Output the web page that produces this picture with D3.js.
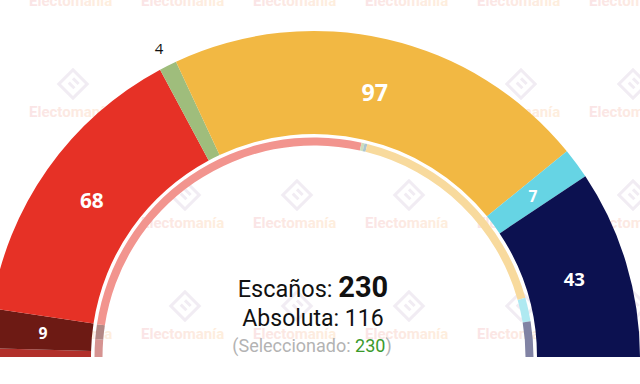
<!DOCTYPE html>
<html>
<head>
<meta charset="utf-8">
<script src="https://cdn.jsdelivr.net/npm/d3@7"></script>
<style>
  html, body { margin: 0; padding: 0; background: #fff; }
  svg { display: block; }
</style>
</head>
<body>
<div id="chart"></div>
<script>
// seats of the projection (outer ring), left to right
var parties = ["CDU", "BE", "PS", "L", "AD", "IL", "CH"];
var seats = [2, 9, 68, 4, 97, 7, 43];
var partyColors = ["#b1302b", "#6d1a14", "#e63126", "#9fbd7c", "#f2b843", "#66d4e4", "#0c1150"];

// selected / previous distribution (thin inner ring)
var prevParties = ["CDU", "BE", "PS", "L", "PAN", "AD", "IL", "CH"];
var prevSeats = [6, 5, 120, 1, 1, 77, 8, 12];

var totalSeats = 230;
var majority = 116;
var selected = 230;

var width = 640, height = 384;
var cx = 314, cy = 357;
var outerR = 326, innerR = 223;
var ringOuter = 219.5, ringInner = 211.5;

var color = d3.scaleOrdinal()
  .domain(parties.concat(["PAN"]))
  .range(partyColors.concat(["#5f8fa0"]));

var svg = d3.select("#chart")
  .append("svg")
  .attr("width", width)
  .attr("height", height)
  .attr("viewBox", "0 0 " + width + " " + height);

// watermark
var defs = svg.append("defs");
var grad = defs.append("linearGradient").attr("id", "wmGrad");
grad.append("stop").attr("offset", "0%").attr("stop-color", "#fae4e6");
grad.append("stop").attr("offset", "100%").attr("stop-color", "#feeedd");

var wm = svg.append("g").attr("class", "watermark");
var wmRows = [6, 117, 228, 339];
var wmCols = [-83, 29, 141, 253, 365, 477, 589];
wmRows.forEach(function(by){
  wmCols.forEach(function(bx){
    var mx = bx + 44, my = by - 33;
    var logo = wm.append("g")
      .attr("transform", "translate(" + mx + "," + my + ") rotate(45)")
      .attr("fill", "none")
      .attr("stroke", "#f1ecf3")
      .attr("stroke-width", 3);
    logo.append("rect").attr("x", -10).attr("y", -10).attr("width", 20).attr("height", 20);
    logo.append("line").attr("x1", -4).attr("y1", -4).attr("x2", 4).attr("y2", -4);
    logo.append("line").attr("x1", -4).attr("y1", 2).attr("x2", 4).attr("y2", 2);
    wm.append("text")
      .attr("x", bx)
      .attr("y", by)
      .attr("font-family", "Roboto, sans-serif")
      .attr("font-weight", "bold")
      .attr("font-size", 15)
      .attr("fill", "url(#wmGrad)")
      .text("Electomanía");
  });
});

var pie = d3.pie()
  .sort(null)
  .value(function(d){ return d.seats; })
  .startAngle(-Math.PI / 2)
  .endAngle(Math.PI / 2);

var mainData = parties.map(function(p, i){ return {party: p, seats: seats[i]}; });
var prevData = prevParties.map(function(p, i){ return {party: p, seats: prevSeats[i]}; });

var arcMain = d3.arc().innerRadius(innerR).outerRadius(outerR);
var arcRing = d3.arc().innerRadius(ringInner).outerRadius(ringOuter);
var arcLabel = d3.arc().innerRadius(272).outerRadius(272);
var arcOut = d3.arc().innerRadius(346).outerRadius(346);

var g = svg.append("g").attr("transform", "translate(" + cx + "," + cy + ")");

g.selectAll("path.seg")
  .data(pie(mainData))
  .join("path")
  .attr("class", "seg")
  .attr("d", arcMain)
  .attr("fill", function(d){ return color(d.data.party); });

g.selectAll("path.prev")
  .data(pie(prevData))
  .join("path")
  .attr("class", "prev")
  .attr("d", arcRing)
  .attr("fill", function(d){ return d3.interpolateRgb(color(d.data.party), "#fff")(0.48); });

var fontScale = d3.scaleLinear().domain([0, 100]).range([15, 23.5]).clamp(true);

var labelled = pie(mainData).filter(function(d){ return d.data.seats > 2; });

g.selectAll("text.lbl")
  .data(labelled)
  .join("text")
  .attr("class", "lbl")
  .attr("transform", function(d){
    var c = d.data.seats < 5 ? arcOut.centroid(d) : arcLabel.centroid(d);
    return "translate(" + c[0] + "," + c[1] + ")";
  })
  .attr("text-anchor", "middle")
  .attr("dominant-baseline", "central")
  .attr("font-family", "'Open Sans', sans-serif")
  .attr("font-weight", function(d){ return d.data.seats < 5 ? "normal" : "bold"; })
  .attr("font-size", function(d){ return d.data.seats < 5 ? 15 : fontScale(d.data.seats); })
  .attr("fill", function(d){ return d.data.seats < 5 ? "#111" : "#fff"; })
  .text(function(d){ return d.data.seats; });

// centre texts
var t1 = svg.append("text")
  .attr("x", 313).attr("y", 297)
  .attr("text-anchor", "middle")
  .attr("font-family", "Roboto, sans-serif")
  .attr("fill", "#111");
t1.append("tspan").attr("font-size", 23.5).text("Escaños: ");
t1.append("tspan").attr("font-size", 29).attr("font-weight", "bold").text(totalSeats);

svg.append("text")
  .attr("x", 313).attr("y", 326)
  .attr("text-anchor", "middle")
  .attr("font-family", "Roboto, sans-serif")
  .attr("font-size", 23)
  .attr("fill", "#111")
  .text("Absoluta: " + majority);

var t3 = svg.append("text")
  .attr("x", 312).attr("y", 352)
  .attr("text-anchor", "middle")
  .attr("font-family", "Roboto, sans-serif")
  .attr("font-size", 18)
  .attr("fill", "#b3b3b3");
t3.append("tspan").text("(Seleccionado: ");
t3.append("tspan").attr("fill", "#3b9a2c").text(selected);
t3.append("tspan").text(")");
</script>
</body>
</html>
